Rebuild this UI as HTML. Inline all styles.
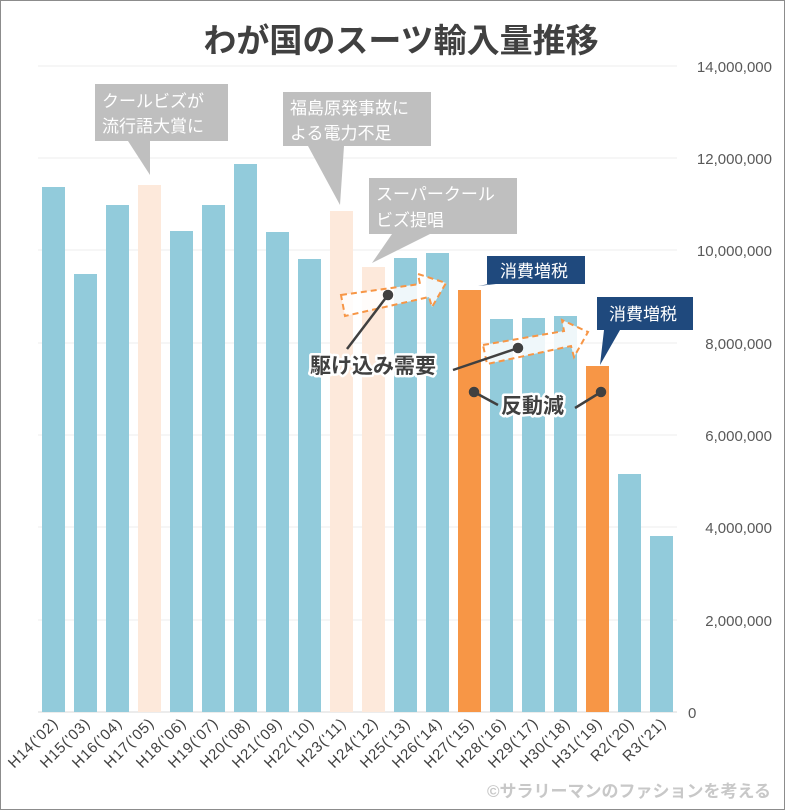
<!DOCTYPE html>
<html><head><meta charset="utf-8"><style>
html,body{margin:0;padding:0;background:#fff;}
svg{display:block;}
text{font-family:"Liberation Sans","Noto Sans CJK JP",sans-serif;}
</style></head><body>
<svg width="785" height="810" viewBox="0 0 785 810" xmlns="http://www.w3.org/2000/svg">
<rect x="0.5" y="0.5" width="784" height="809" fill="#fff" stroke="#8c8c8c"/>
<text x="401" y="52" text-anchor="middle" font-size="33" font-weight="bold" fill="#404040">わが国のスーツ輸入量推移</text>
<g stroke="#ececec" stroke-width="1">
<line x1="38" y1="66" x2="677" y2="66"/><line x1="38" y1="158" x2="677" y2="158"/>
<line x1="38" y1="250" x2="677" y2="250"/><line x1="38" y1="343" x2="677" y2="343"/>
<line x1="38" y1="435" x2="677" y2="435"/><line x1="38" y1="527" x2="677" y2="527"/>
<line x1="38" y1="620" x2="677" y2="620"/><line x1="38" y1="712" x2="677" y2="712" stroke="#d9d9d9"/>
</g>
<g font-size="15" fill="#595959" text-anchor="end">
<text x="772" y="72">14,000,000</text><text x="772" y="164">12,000,000</text>
<text x="772" y="256">10,000,000</text><text x="772" y="349">8,000,000</text>
<text x="772" y="441">6,000,000</text><text x="772" y="533">4,000,000</text>
<text x="772" y="626">2,000,000</text><text x="688" y="718" text-anchor="start">0</text>
</g>
<g>
<rect x="42" y="187" width="23" height="525" fill="#92cbdb"/>
<rect x="74" y="274" width="23" height="438" fill="#92cbdb"/>
<rect x="106" y="205" width="23" height="507" fill="#92cbdb"/>
<rect x="138" y="185" width="23" height="527" fill="#fde9db"/>
<rect x="170" y="231" width="23" height="481" fill="#92cbdb"/>
<rect x="202" y="205" width="23" height="507" fill="#92cbdb"/>
<rect x="234" y="164" width="23" height="548" fill="#92cbdb"/>
<rect x="266" y="232" width="23" height="480" fill="#92cbdb"/>
<rect x="298" y="259" width="23" height="453" fill="#92cbdb"/>
<rect x="330" y="211" width="23" height="501" fill="#fde9db"/>
<rect x="362" y="267" width="23" height="445" fill="#fde9db"/>
<rect x="394" y="258" width="23" height="454" fill="#92cbdb"/>
<rect x="426" y="253" width="23" height="459" fill="#92cbdb"/>
<rect x="458" y="290" width="23" height="422" fill="#f79646"/>
<rect x="490" y="319" width="23" height="393" fill="#92cbdb"/>
<rect x="522" y="318" width="23" height="394" fill="#92cbdb"/>
<rect x="554" y="316" width="23" height="396" fill="#92cbdb"/>
<rect x="586" y="366" width="23" height="346" fill="#f79646"/>
<rect x="618" y="474" width="23" height="238" fill="#92cbdb"/>
<rect x="650" y="536" width="23" height="176" fill="#92cbdb"/>
</g>
<g font-size="15" fill="#404040" text-anchor="end" letter-spacing="0.8">
<text transform="translate(59,724) rotate(-45)">H14('02)</text>
<text transform="translate(91,724) rotate(-45)">H15('03)</text>
<text transform="translate(123,724) rotate(-45)">H16('04)</text>
<text transform="translate(155,724) rotate(-45)">H17('05)</text>
<text transform="translate(187,724) rotate(-45)">H18('06)</text>
<text transform="translate(219,724) rotate(-45)">H19('07)</text>
<text transform="translate(251,724) rotate(-45)">H20('08)</text>
<text transform="translate(283,724) rotate(-45)">H21('09)</text>
<text transform="translate(315,724) rotate(-45)">H22('10)</text>
<text transform="translate(347,724) rotate(-45)">H23('11)</text>
<text transform="translate(379,724) rotate(-45)">H24('12)</text>
<text transform="translate(411,724) rotate(-45)">H25('13)</text>
<text transform="translate(443,724) rotate(-45)">H26('14)</text>
<text transform="translate(475,724) rotate(-45)">H27('15)</text>
<text transform="translate(507,724) rotate(-45)">H28('16)</text>
<text transform="translate(539,724) rotate(-45)">H29('17)</text>
<text transform="translate(571,724) rotate(-45)">H30('18)</text>
<text transform="translate(603,724) rotate(-45)">H31('19)</text>
<text transform="translate(635,724) rotate(-45)">R2('20)</text>
<text transform="translate(667,724) rotate(-45)">R3('21)</text>
</g>
<g fill="#bfbfbf">
<path d="M95 84 H228 V141 H150 V175 L128 141 H95 Z"/>
<path d="M283 92 H431 V146 H344 L340 205 L308 146 H283 Z"/>
<path d="M369 178 H517 V234 H430 L372 263 L392 234 H369 Z"/>
</g>
<g font-size="17" fill="#fff">
<text x="102" y="107">クールビズが</text><text x="102" y="132">流行語大賞に</text>
<text x="290" y="114">福島原発事故に</text><text x="290" y="139">よる電力不足</text>
<text x="376" y="200">スーパークール</text><text x="376" y="226">ビズ提唱</text>
</g>
<g fill="#1f497d">
<path d="M487 256 H585 V284 H496 L478 286 L489 284 H487 Z"/>
<path d="M597 297 H693 V330 H620 L600 365 L604 330 H597 Z"/>
</g>
<g font-size="17" fill="#fff">
<text x="500" y="277">消費増税</text><text x="609" y="320">消費増税</text>
</g>
<g fill="#fff" fill-opacity="0.85" stroke="#f79646" stroke-width="2" stroke-dasharray="6,4">
<path d="M341 295 L420 284 L418 274 L446 283 L432 307 L429 297 L345 316 Z"/>
<path d="M483 345 L564 331 L562 320 L588 332 L574 357 L571 346 L487 364 Z"/>
</g>
<g stroke="#404040" stroke-width="2.5" fill="#404040">
<line x1="347" y1="349" x2="388" y2="295"/><circle cx="388" cy="295" r="4"/>
<line x1="453" y1="370" x2="518" y2="348"/><circle cx="518" cy="348" r="4"/>
<line x1="474" y1="392" x2="498" y2="405"/><circle cx="474" cy="392" r="4"/>
<line x1="601" y1="392" x2="575" y2="408"/><circle cx="601" cy="392" r="4"/>
</g>
<g font-size="21" font-weight="bold" fill="#404040" stroke="#fff" stroke-width="5" paint-order="stroke" stroke-linejoin="round">
<text x="310" y="373">駆け込み需要</text>
<text x="501" y="413">反動減</text>
</g>
<text x="771" y="797" text-anchor="end" font-size="17" font-weight="bold" fill="#c8c8c8">©サラリーマンのファションを考える</text>
</svg>
</body></html>
